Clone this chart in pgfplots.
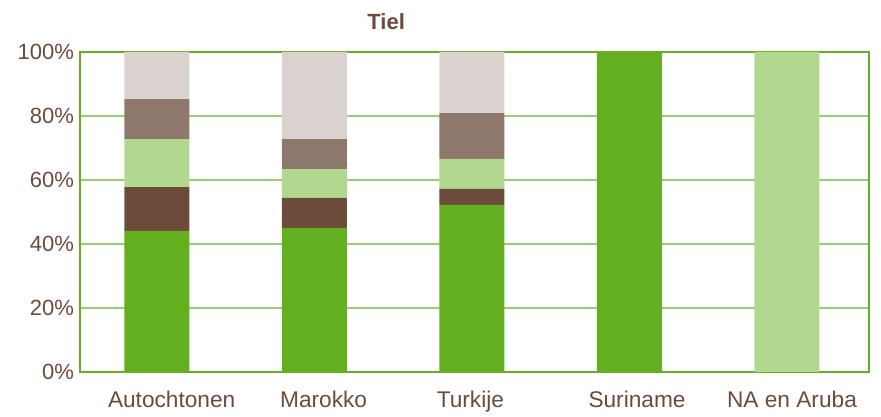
\documentclass[border=0pt]{standalone}
\usepackage{pgfplots}
\pgfplotsset{compat=1.18}
\usepackage{fontspec}
\setmainfont{Liberation Sans}

\definecolor{grn}{HTML}{63AF1F}
\definecolor{brd}{HTML}{6B4C3B}
\definecolor{lgrn}{HTML}{B2D88F}
\definecolor{brm}{HTML}{8E776B}
\definecolor{pnk}{HTML}{DAD2CF}
\definecolor{gridg}{HTML}{98CF70}
\definecolor{txt}{HTML}{6B4C3B}

\begin{document}
\begin{tikzpicture}
% 1px = 0.75pt; picture 881x417 px, plot area from (80,52) to (869,372)
\useasboundingbox (-60pt,-33.75pt) rectangle (600.75pt,279pt);
\begin{axis}[
    scale only axis,
    width=591.75pt,
    height=240pt,
    ybar stacked,
    bar width=48.75pt,
    xmin=-0.488, xmax=4.522,
    ymin=0, ymax=100,
    % labels sit slightly off the bar centres in the original
    xtick={0.094,1.059,1.991,3.049,4.033},
    xticklabels={Autochtonen, Marokko, Turkije, Suriname, NA en Aruba},
    ytick={0,20,40,60,80,100},
    yticklabel={\pgfmathprintnumber{\tick}\%},
    /pgf/number format/assume math mode=true,
    major tick length=0pt,
    ymajorgrids,
    grid style={gridg, line width=1.2pt},
    axis line style={grn, line width=1.8pt},
    tick label style={text=txt},
    yticklabel style={font=\fontsize{16.5}{18}\selectfont, xshift=-1pt},
    xticklabel style={font=\fontsize{17}{19}\selectfont, yshift=-10.5pt},
    every axis plot/.append style={draw=none},
    clip=false,
]
\addplot[fill=grn] coordinates {(0,44.1) (1,45.0) (2,52.2) (3,100) (4,0)};
\addplot[fill=brd] coordinates {(0,13.7) (1,9.4) (2,5.0) (3,0) (4,0)};
\addplot[fill=lgrn] coordinates {(0,15.0) (1,9.0) (2,9.4) (3,0) (4,100)};
\addplot[fill=brm] coordinates {(0,12.5) (1,9.4) (2,14.3) (3,0) (4,0)};
\addplot[fill=pnk] coordinates {(0,14.7) (1,27.2) (2,19.1) (3,0) (4,0)};
\node[font=\bfseries\fontsize{16.5}{18}\selectfont, text=txt] at (rel axis cs:0.388,1) [yshift=23pt] {Tiel};
\end{axis}
\end{tikzpicture}
\end{document}
